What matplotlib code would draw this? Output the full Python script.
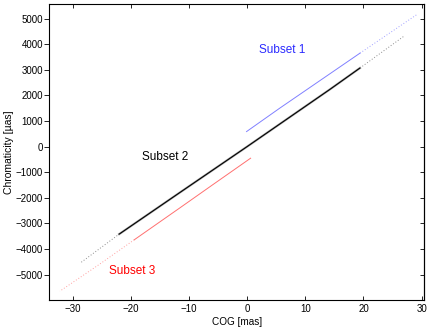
import matplotlib
matplotlib.use("Agg")
import matplotlib.pyplot as plt

plt.rcParams['font.family'] = ['Liberation Sans', 'DejaVu Sans']

# Subset 2 (black): dense core and sparse ends (COG [mas], Chromaticity [uas])
s2_core_x = [-22.0, -11.6, 0.0, 14.2, 19.4]
s2_core_y = [-3420, -1800, 0, 2230, 3070]
s2_low_x = [-28.5, -22.0]
s2_low_y = [-4516, -3420]
s2_up_x = [19.4, 27.1]
s2_up_y = [3070, 4336]

# Subset 1 (blue)
s1_core_x = [-0.1, 5.6, 19.4]
s1_core_y = [586, 1500, 3650]
s1_up_x = [19.4, 29.1]
s1_up_y = [3650, 5145]

# Subset 3 (red)
s3_core_x = [0.6, -5.85, -11.6, -19.4]
s3_core_y = [-453, -1480, -2400, -3640]
s3_low_x = [-19.4, -25.4, -32.2]
s3_low_y = [-3640, -4600, -5648]

labels = ["Subset 1", "Subset 2", "Subset 3"]
label_x = [6.1, -14.1, -19.7]
label_y = [3770, -400, -4850]
colors = ["#2a2aff", "black", "red"]

fig = plt.figure(figsize=(4.30, 3.27), dpi=100)
ax = fig.add_axes([0.1147, 0.0835, 0.8713, 0.9043])

ax.plot(s2_core_x, s2_core_y, color='0.45', lw=1.6, alpha=0.6)
ax.plot(s2_core_x, s2_core_y, color='black', lw=0.8)
ax.plot(s2_low_x, s2_low_y, color='0.55', lw=0.7, ls=(0, (1, 2)))
ax.plot(s2_up_x, s2_up_y, color='0.55', lw=0.7, ls=(0, (1, 2)))

ax.plot(s1_core_x, s1_core_y, color='#8080ff', lw=0.7)
ax.plot(s1_up_x, s1_up_y, color='#a0a0ff', lw=0.7, ls=(0, (1, 2)))

ax.plot(s3_core_x, s3_core_y, color='#ff7070', lw=0.7)
ax.plot(s3_low_x, s3_low_y, color='#ffa0a0', lw=0.7, ls=(0, (1, 2)))

for t, x, y, c in zip(labels, label_x, label_y, colors):
    ax.text(x, y, t, color=c, fontsize=8.5, ha='center', va='center')

ax.set_xlim(-34, 30.4)
ax.set_ylim(-5980, 5570)
xt = [-30, -20, -10, 0, 10, 20, 30]
yt = [-5000, -4000, -3000, -2000, -1000, 0, 1000, 2000, 3000, 4000, 5000]
ax.set_xticks(xt)
ax.set_yticks(yt)
ax.tick_params(axis='x', direction='in', top=True, length=3, width=0.6, labelsize=7, pad=3)
ax.tick_params(axis='y', direction='out', right=False, length=3.5, width=0.6, labelsize=7, pad=1)
sec = ax.secondary_yaxis('right')
sec.set_yticks(yt)
sec.tick_params(direction='in', length=3, width=0.6, labelright=False)
sec.spines['right'].set_linewidth(0.8)
for s in ax.spines.values():
    s.set_linewidth(0.8)
ax.set_xlabel("COG [mas]", fontsize=7.2, labelpad=2)
ax.set_ylabel("Chromaticity [µas]", fontsize=7.5, labelpad=1.5)

fig.savefig("out.png", dpi=100)
